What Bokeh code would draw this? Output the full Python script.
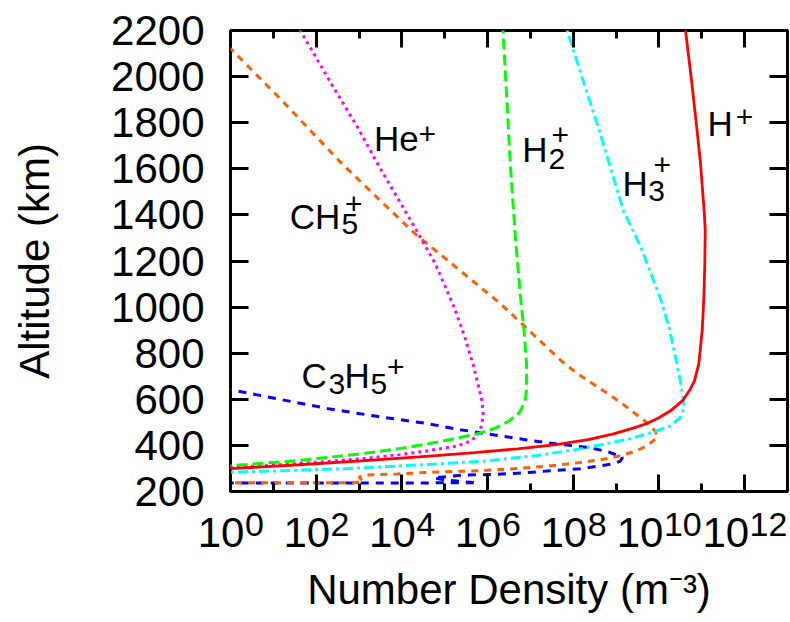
import numpy as np
from bokeh.plotting import figure
from bokeh.models import Range1d, FixedTicker, LogAxis, LinearAxis, Label, CustomJSTickFormatter
from bokeh.embed import file_html
from bokeh.resources import INLINE

# ---- data: altitude (km) and log10 of number density (m^-3) ----
hp_alt = [283, 299, 316, 333, 350, 369, 385, 403, 425, 450, 475, 495, 520, 550, 594, 640, 681, 754,
          900, 1050, 1190, 1332, 1405, 1550, 1623, 1766, 2000, 2200, 2250]
hp_logn = [-1.0, 0.0, 1.6, 3.06, 4.4, 5.7, 6.7, 7.6, 8.35, 8.94, 9.4, 9.72, 10.0, 10.27, 10.55, 10.72, 10.83, 10.93,
           11.01, 11.05, 11.07, 11.08, 11.06, 11.0, 10.97, 10.89, 10.75, 10.62, 10.59]

h2p_alt = [300, 312, 333, 364, 385, 407, 430, 450, 472, 490, 507, 530, 550, 600, 640, 754, 900, 1041,
           1300, 1623, 1900, 2200, 2250]
h2p_logn = [-0.6, 0.0, 1.52, 3.06, 3.9, 4.62, 5.25, 5.75, 6.14, 6.35, 6.5, 6.68, 6.77, 6.88, 6.91, 6.91, 6.85, 6.77,
            6.65, 6.53, 6.45, 6.36, 6.35]

hep_alt = [295, 303, 320, 342, 360, 377, 398, 420, 450, 480, 530, 594, 740, 870, 1000, 1188, 1330, 1607,
           1779, 1970, 2200, 2250]
hep_logn = [-0.5, 0.0, 1.52, 3.06, 3.95, 4.62, 5.3, 5.62, 5.78, 5.85, 5.9, 5.87, 5.68, 5.47, 5.22, 4.78, 4.35, 3.48,
            2.97, 2.35, 1.63, 1.48]

h3p_alt = [270, 283, 300, 318, 333, 355, 385, 429, 460, 485, 521, 560, 600, 680, 754, 900, 1041, 1259,
           1419, 1753, 2000, 2200, 2250]
h3p_logn = [-0.8, 0.0, 2.8, 4.7, 6.0, 7.1, 8.17, 9.33, 9.9, 10.27, 10.5, 10.58, 10.57, 10.5, 10.42, 10.25, 10.03, 9.58,
            9.17, 8.63, 8.2, 7.86, 7.78]

ch5p_alt = [238, 238, 245, 262, 271, 276, 283, 287, 290, 294, 299, 310, 326, 340, 355, 375, 398, 435, 460,
            494, 565, 608, 711, 767, 928, 1015, 1318, 1433, 1628, 1889, 2122, 2200]
ch5p_logn = [-0.5, 2.9, 3.1, 3.0, 3.1, 3.9, 4.62, 5.2, 5.83, 6.19, 6.6, 7.4, 8.17, 8.7, 9.1, 9.45, 9.72, 9.96, 9.92,
             9.75, 9.26, 8.94, 8.1, 7.72, 6.8, 6.3, 4.31, 3.66, 2.57, 1.24, 0.0, -0.42]

c3h5p_alt = [660, 642, 600, 559, 525, 494, 470, 450, 430, 411, 390, 370, 348, 332, 320, 299, 290, 280,
             274, 271, 265, 259, 250, 243, 238, 237, 237]
c3h5p_logn = [-0.5, 0.0, 1.15, 2.29, 3.45, 4.62, 5.3, 6.0, 6.7, 7.4, 8.4, 8.85, 9.15, 9.1, 8.94, 8.17, 7.47, 6.8,
              6.1, 5.44, 5.06, 4.74, 5.0, 5.4, 5.76, 4.0, -0.5]

x_decades = list(range(0, 13, 2))
x_major = [10.0 ** k for k in x_decades]
x_minor = [10.0 ** k for k in range(1, 14, 2)]
x_exponents = [str(k) for k in x_decades]
y_ticks = list(range(200, 2201, 200))

FONT = "Liberation Sans"
X_LO, X_HI = 1.0, 1e13
PXD = 557 / 13.0          # screen pixels per decade of the frame
NBSP = "\u00a0"

p = figure(frame_width=557, frame_height=461, x_axis_type="log",
           x_range=Range1d(X_LO, X_HI), y_range=Range1d(200, 2200),
           output_backend="svg", toolbar_location=None,
           min_border_left=230, min_border_right=3, min_border_top=30, min_border_bottom=131)
p.grid.visible = False
p.outline_line_color = "black"
p.outline_line_width = 3
p.background_fill_color = "white"
p.border_fill_color = "white"

blank = CustomJSTickFormatter(code="return ''")


def style_x(ax):
    ax.ticker = FixedTicker(ticks=x_major, minor_ticks=x_minor)
    ax.formatter = blank
    ax.major_label_standoff = 0
    ax.major_label_text_font_size = "1px"
    ax.axis_line_color = None
    ax.major_tick_in = 17
    ax.major_tick_out = 0
    ax.minor_tick_in = 8
    ax.minor_tick_out = 0
    ax.major_tick_line_width = 3
    ax.minor_tick_line_width = 3
    ax.major_tick_line_color = "black"
    ax.minor_tick_line_color = "black"


def style_y(ax, labels):
    ax.ticker = FixedTicker(ticks=y_ticks, minor_ticks=[])
    ax.axis_line_color = None
    ax.major_tick_in = 18
    ax.major_tick_out = 0
    ax.minor_tick_in = 0
    ax.minor_tick_out = 0
    ax.major_tick_line_width = 3
    ax.major_tick_line_color = "black"
    if labels:
        ax.major_label_text_font = FONT
        ax.major_label_text_font_size = "42px"
        ax.major_label_text_color = "black"
        ax.major_label_standoff = 26
        ax.axis_label = "Altitude (km)"
        ax.axis_label_text_font = FONT
        ax.axis_label_text_font_size = "42px"
        ax.axis_label_text_font_style = "normal"
        ax.axis_label_text_color = "black"
        ax.axis_label_standoff = 50
    else:
        ax.formatter = blank
        ax.major_label_standoff = 0
        ax.major_label_text_font_size = "1px"


def label_axis(positions, labels, size, standoff):
    ax = LogAxis(ticker=FixedTicker(ticks=positions, minor_ticks=[]),
                 formatter=CustomJSTickFormatter(args=dict(L=labels), code="return L[index]"))
    ax.axis_line_color = None
    ax.major_tick_line_color = None
    ax.minor_tick_line_color = None
    ax.major_tick_in = 0
    ax.major_tick_out = 0
    ax.minor_tick_in = 0
    ax.minor_tick_out = 0
    ax.major_label_text_font = FONT
    ax.major_label_text_font_size = size
    ax.major_label_text_color = "black"
    ax.major_label_standoff = standoff
    return ax


style_x(p.xaxis[0])
style_y(p.yaxis[0], True)
top_ax = LogAxis()
style_x(top_ax)
p.add_layout(top_ax, "above")
right_ax = LinearAxis()
style_y(right_ax, False)
p.add_layout(right_ax, "right")

# x tick labels "10^k": exponent row, then the "10" row (shifted so the pair is centred on the tick)
SUP_SHIFT = 23.85                      # px right of tick for the exponent centre
sup_pos = [10 ** (k + SUP_SHIFT / PXD) for k in x_decades]
ten_pos, ten_lab = [], []
for k, e in zip(x_decades, x_exponents):
    shift = -9.45 * len(e)
    if k == 0:   # keep the anchor inside the range, pad with two no-break spaces instead
        ten_pos.append(10 ** (2.23 / PXD)); ten_lab.append("10" + NBSP * 2)
    else:
        ten_pos.append(10 ** (k + shift / PXD)); ten_lab.append("10")

sup_ax = label_axis(sup_pos, x_exponents, "34px", 21)
p.add_layout(sup_ax, "below")
ten_ax = label_axis(ten_pos, ten_lab, "42px", -30)
ten_ax.axis_label = "Number Density (m\u207b\u00b3)"
ten_ax.axis_label_text_font = FONT
ten_ax.axis_label_text_font_size = "42px"
ten_ax.axis_label_text_font_style = "normal"
ten_ax.axis_label_text_color = "black"
ten_ax.axis_label_standoff = 7
p.add_layout(ten_ax, "below")

# ---- curves ----
def curve(alt, logn, color, dash, width=3):
    p.line(10.0 ** np.array(logn), alt, line_color=color, line_width=width, line_dash=dash)

curve(c3h5p_alt, c3h5p_logn, "#0000ff", "8 7")
curve(ch5p_alt, ch5p_logn, "#ff6000", "7 6")
curve(hep_alt, hep_logn, "#ff00ff", "3 4")
curve(h2p_alt, h2p_logn, "#00ff00", "11 5")
curve(h3p_alt, h3p_logn, "#00ffff", "10 4 3 4")
curve(hp_alt, hp_logn, "#ff0000", "solid", 2.8)


def lab(text, lx, km, size):
    p.add_layout(Label(x=10.0 ** lx, y=km, y_offset=round(0.4 * size), text=text, text_font=FONT,
                       text_font_size=f"{size}px", text_color="black", text_align="left",
                       text_baseline="alphabetic"))

# species labels
MS, SS = 35, 30
lab("He", 3.35, 1672, MS); lab("+", 4.39, 1699, SS)
lab("H", 6.81, 1623, MS); lab("2", 7.42, 1592, SS); lab("+", 7.49, 1694, SS)
lab("H", 9.15, 1475, MS); lab("3", 9.75, 1453, SS); lab("+", 9.87, 1564, SS)
lab("H", 11.13, 1735, MS); lab("+", 11.79, 1772, SS)
lab("CH", 1.38, 1332, MS); lab("5", 2.59, 1310, SS); lab("+", 2.67, 1395, SS)
lab("C", 1.66, 642, MS); lab("3", 2.29, 616, SS); lab("H", 2.66, 642, MS); lab("5", 3.27, 616, SS); lab("+", 3.65, 687, SS)

open("out.html", "w").write(file_html(p, INLINE))
